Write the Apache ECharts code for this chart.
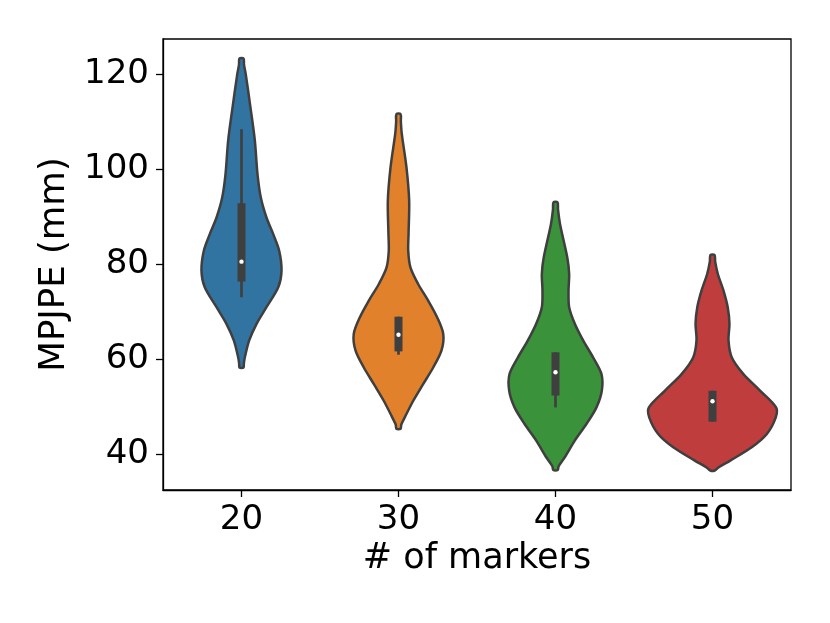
<!DOCTYPE html>
<html>
<head>
<meta charset="utf-8">
<script src="https://cdn.jsdelivr.net/npm/echarts@6/dist/echarts.min.js"></script>
<style>html,body{margin:0;padding:0;background:#fff;}#c{width:830px;height:623px;}</style>
</head>
<body>
<div id="c"></div>
<script>
// ---- data ----
var categories = ['20', '30', '40', '50'];
var yTicks = [40, 60, 80, 100, 120];
// violin outlines: [value (mm), half-width (fraction of category band)]
var profile20 = [[123.3,0.013],[122.0,0.016],[120.0,0.027],[113.0,0.057],[106.0,0.085],[98.9,0.102],[94.0,0.123],[89.8,0.159],[86.3,0.202],[82.8,0.240],[78.6,0.255],[75.1,0.234],[70.9,0.159],[67.4,0.096],[63.9,0.049],[60.3,0.021],[59.0,0.015],[58.2,0.013]];
var profile30 = [[111.6,0.013],[110.0,0.015],[107.4,0.021],[100.3,0.051],[93.3,0.068],[86.3,0.064],[82.8,0.062],[79.3,0.076],[75.8,0.125],[72.3,0.189],[68.8,0.246],[65.3,0.285],[61.8,0.274],[58.2,0.221],[54.7,0.157],[51.2,0.094],[47.7,0.040],[46.2,0.018],[45.3,0.013]];
var profile40 = [[93.0,0.013],[91.5,0.016],[88.4,0.029],[81.4,0.075],[77.9,0.087],[74.4,0.083],[70.9,0.087],[67.4,0.123],[63.9,0.176],[60.3,0.240],[56.8,0.293],[53.3,0.295],[49.8,0.261],[46.3,0.197],[42.8,0.123],[39.3,0.059],[37.4,0.020],[36.6,0.014]];
var profile50 = [[81.9,0.013],[80.5,0.017],[77.9,0.034],[74.4,0.070],[70.9,0.097],[67.4,0.108],[63.9,0.102],[60.3,0.123],[56.8,0.197],[53.3,0.304],[49.8,0.405],[47.7,0.403],[44.2,0.346],[41.4,0.250],[38.6,0.113],[37.2,0.040],[36.5,0.014]];
var profiles = [profile20, profile30, profile40, profile50];
var whiskerLow  = [73.0, 60.9, 49.8, 46.8];
var q1          = [76.3, 61.6, 52.3, 46.8];
var medians     = [80.5, 65.1, 57.2, 51.1];
var q3          = [92.8, 68.9, 61.4, 53.3];
var whiskerHigh = [108.4, 68.9, 61.4, 53.3];

var colors = ['#3274a1', '#e1812c', '#3a923a', '#c03d3e'];
var edge = '#3f3f3f';
var FONT = 'DejaVu Sans';

var chart = echarts.init(document.getElementById('c'), null, {renderer: 'canvas'});

function renderViolin(params, api) {
  var idx = api.value(0);
  var prof = profiles[idx];
  var cx = api.coord([idx, 0])[0];
  var band = api.size([1, 0])[0];
  var right = [], left = [];
  for (var i = 0; i < prof.length; i++) {
    var y = api.coord([idx, prof[i][0]])[1];
    var w = prof[i][1] * band;
    right.push([cx + w, y]);
    left.unshift([cx - w, y]);
  }
  var pts = right.concat(left);
  var yWl = api.coord([idx, whiskerLow[idx]])[1];
  var yWh = api.coord([idx, whiskerHigh[idx]])[1];
  var yQ1 = api.coord([idx, q1[idx]])[1];
  var yQ3 = api.coord([idx, q3[idx]])[1];
  var yMed = api.coord([idx, medians[idx]])[1];
  return {
    type: 'group',
    children: [
      {type: 'polygon', shape: {points: pts, smooth: 0.3},
       style: {fill: colors[idx], stroke: edge, lineWidth: 2.5, lineJoin: 'round'}},
      {type: 'line', shape: {x1: cx, y1: yWh, x2: cx, y2: yWl},
       style: {stroke: edge, lineWidth: 2.7}},
      {type: 'rect', shape: {x: cx - 4, y: yQ3, width: 8, height: yQ1 - yQ3},
       style: {fill: edge}},
      {type: 'circle', shape: {cx: cx, cy: yMed, r: 2.2},
       style: {fill: '#ffffff'}}
    ]
  };
}

chart.setOption({
  backgroundColor: '#ffffff',
  animation: false,
  grid: {left: 163, right: 39, top: 39, bottom: 133, show: true,
         borderColor: '#000', borderWidth: 1.3, backgroundColor: 'transparent'},
  xAxis: {
    type: 'category', data: categories, boundaryGap: true,
    name: '# of markers', nameLocation: 'middle', nameGap: 50,
    nameTextStyle: {fontFamily: FONT, fontSize: 35, color: '#000'},
    axisLine: {show: true, lineStyle: {color: '#000', width: 1.3}},
    axisTick: {show: true, alignWithLabel: true, length: 7, lineStyle: {color: '#000', width: 1.3}},
    axisLabel: {fontFamily: FONT, fontSize: 34, color: '#000', margin: 13},
    splitLine: {show: false}
  },
  yAxis: {
    type: 'value', min: 32.4, max: 127.4,
    name: 'MPJPE (mm)', nameLocation: 'middle', nameGap: 90,
    nameTextStyle: {fontFamily: FONT, fontSize: 35.5, color: '#000'},
    axisLine: {show: true, lineStyle: {color: '#000', width: 1.3}},
    axisTick: {show: true, length: 7, customValues: yTicks, lineStyle: {color: '#000', width: 1.3}},
    axisLabel: {fontFamily: FONT, fontSize: 34, color: '#000', margin: 14, customValues: yTicks},
    splitLine: {show: false}
  },
  series: [{
    type: 'custom',
    renderItem: renderViolin,
    data: categories.map(function (c, i) { return [i]; }),
    encode: {x: 0, y: -1},
    clip: false
  }]
});
</script>
</body>
</html>
